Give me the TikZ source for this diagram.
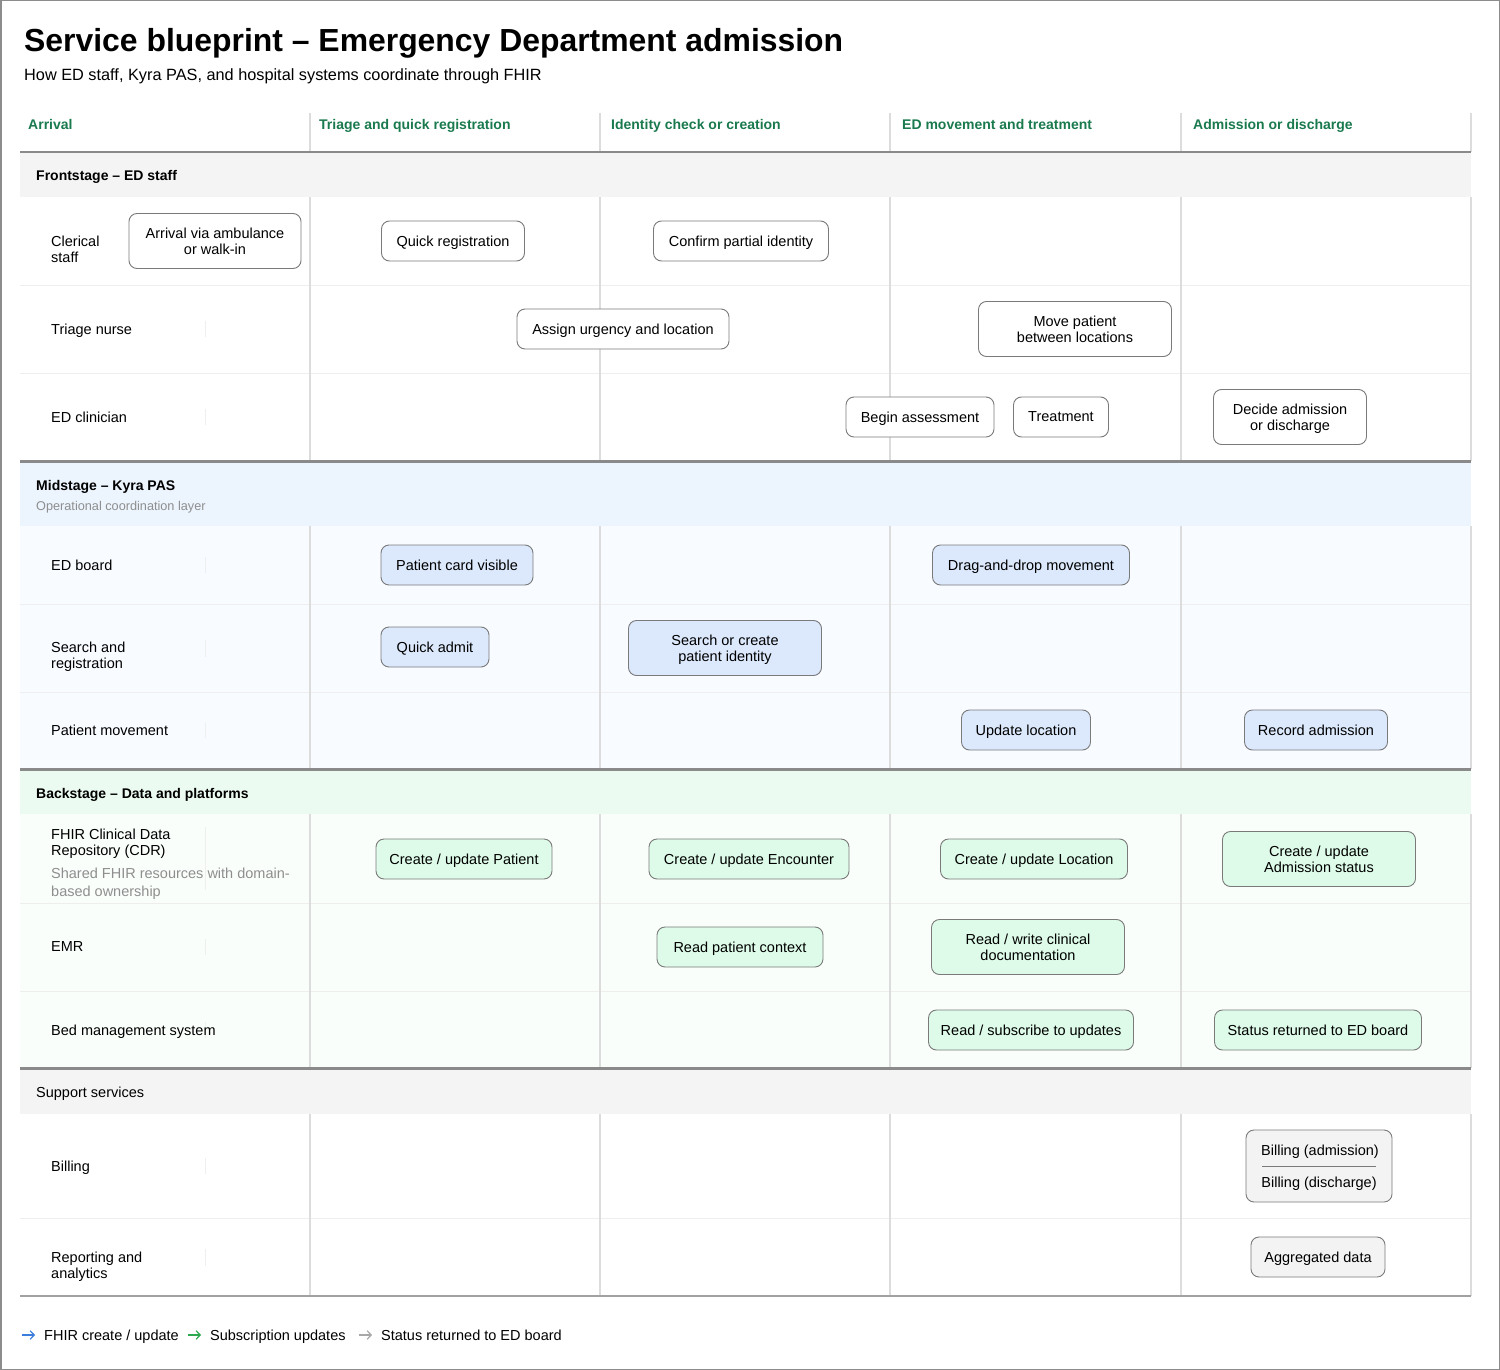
\documentclass[tikz,border=0pt]{standalone}
\usepackage{fontspec}
\setmainfont{Liberation Sans}
\usetikzlibrary{arrows.meta}

\definecolor{frame}{HTML}{8C8C8C}
\definecolor{rule}{HTML}{8A8A8A}
\definecolor{colline}{HTML}{DCDCDC}
\definecolor{rowline}{HTML}{EEEEEE}
\definecolor{tick}{HTML}{EFEFEF}
\definecolor{phase}{HTML}{1A7A4E}
\definecolor{greyband}{HTML}{F4F4F4}
\definecolor{blueband}{HTML}{ECF4FE}
\definecolor{bluerow}{HTML}{F8FBFF}
\definecolor{greenband}{HTML}{ECFBF1}
\definecolor{greenrow}{HTML}{FAFEFB}
\definecolor{cardline}{HTML}{7A7A7A}
\definecolor{midfill}{HTML}{DCE9FC}
\definecolor{backfill}{HTML}{DDFBE8}
\definecolor{suppfill}{HTML}{F3F3F3}
\definecolor{subtext}{HTML}{8E8E8E}
\definecolor{legblue}{HTML}{3B7DDD}
\definecolor{leggreen}{HTML}{2EA84E}
\definecolor{leggrey}{HTML}{A8A8A8}

\newcommand\bodyfont{\fontsize{14.5}{16}\selectfont}

\tikzset{
  card/.style={draw=cardline, line width=0.9pt, rounded corners=8pt, align=center,
               font=\bodyfont, inner sep=0pt, text=black, text depth=0pt},
  front/.style={card, fill=white},
  mid/.style={card, fill=midfill},
  back/.style={card, fill=backfill},
  supp/.style={card, fill=suppfill},
  rowlab/.style={anchor=west, align=left, font=\bodyfont, inner sep=0pt, text depth=0pt},
  phasehead/.style={anchor=west, font=\fontsize{14}{16}\selectfont\bfseries, text=phase, inner sep=0pt, text depth=0pt},
  bandhead/.style={anchor=west, font=\fontsize{14}{16}\selectfont\bfseries, inner sep=0pt, text depth=0pt},
  legtext/.style={anchor=west, font=\bodyfont, inner sep=0pt, text depth=0pt},
  legarrow/.style={-{Straight Barb[length=4pt,width=8.5pt]}, line width=1.2pt},
}

\begin{document}
\begin{tikzpicture}[x=1pt,y=-1pt]
\useasboundingbox (0,0) rectangle (1500,1370);
\fill[white] (0,0) rectangle (1500,1370);

% band and row backgrounds
\fill[greyband]  (20,153)  rectangle (1471,197);
\fill[blueband]  (20,462)  rectangle (1471,526);
\fill[bluerow]   (20,526)  rectangle (1471,769);
\fill[greenband] (20,770)  rectangle (1471,814);
\fill[greenrow]  (20,814)  rectangle (1471,1068);
\fill[greyband]  (20,1069) rectangle (1471,1114);

% thin row separators
\foreach \y in {285,373,604,692,903,991,1218}
  \draw[rowline, line width=1pt] (20,\y) -- (1471,\y);

% column lines
\foreach \x in {310,600,890,1181,1471} {
  \draw[colline, line width=1.5pt] (\x,113) -- (\x,152);
  \draw[colline, line width=1.5pt] (\x,197) -- (\x,461);
  \draw[colline, line width=1.5pt] (\x,526) -- (\x,769);
  \draw[colline, line width=1.5pt] (\x,814) -- (\x,1068);
  \draw[colline, line width=1.5pt] (\x,1114) -- (\x,1296);
}

% faint label-cell edges
\foreach \ya/\yb in {321/337, 409/425, 557/573, 640/657, 722/738, 827/890, 939/955, 1022/1038, 1158/1174, 1249/1266}
  \draw[tick, line width=1pt] (205,\ya) -- (205,\yb);

% section rules
\draw[rule, line width=2.5pt] (20,152) -- (1471,152);
\draw[rule, line width=2.5pt] (20,461.5) -- (1471,461.5);
\draw[rule, line width=2.5pt] (20,769.5) -- (1471,769.5);
\draw[rule, line width=2.5pt] (20,1068.5) -- (1471,1068.5);
\draw[rule!80, line width=1.5pt] (20,1296) -- (1471,1296);

% title
\node[anchor=base west, inner sep=0pt, font=\fontsize{31.9}{36}\selectfont\bfseries] (title) at (24,52)
  {Service blueprint – Emergency Department admission};
\node[anchor=west, inner sep=0pt, text depth=0pt, font=\fontsize{16.3}{19}\selectfont] (subtitle) at (24,75)
  {How ED staff, Kyra PAS, and hospital systems coordinate through FHIR};

% phase headers
\node[phasehead] (ph1) at (28,124) {Arrival};
\node[phasehead] (ph2) at (319,124) {Triage and quick registration};
\node[phasehead] (ph3) at (611,124) {Identity check or creation};
\node[phasehead] (ph4) at (902,124) {ED movement and treatment};
\node[phasehead] (ph5) at (1193,124) {Admission or discharge};

% band headers
\node[bandhead] (bfront) at (36,175) {Frontstage – ED staff};
\node[bandhead] (bmid) at (36,485) {Midstage – Kyra PAS};
\node[anchor=west, inner sep=0pt, text depth=0pt, font=\fontsize{12.7}{14}\selectfont, text=subtext] (bmidsub) at (36,506) {Operational coordination layer};
\node[bandhead] (bback) at (36,793) {Backstage – Data and platforms};
\node[anchor=west, inner sep=0pt, text depth=0pt, font=\bodyfont] (bsupp) at (36,1092) {Support services};

% row labels
\node[rowlab] (lclerical) at (51,249) {Clerical\\staff};
\node[rowlab] (ltriage) at (51,329) {Triage nurse};
\node[rowlab] (lclin) at (51,417) {ED clinician};
\node[rowlab] (lboard) at (51,565) {ED board};
\node[rowlab] (lsearch) at (51,655) {Search and\\registration};
\node[rowlab] (lmove) at (51,730) {Patient movement};
\node[rowlab] (lcdr) at (51,842) {FHIR Clinical Data\\Repository (CDR)};
\node[rowlab, text=subtext, font=\fontsize{14.5}{17.5}\selectfont] (lcdrsub) at (51,882) {Shared FHIR resources with domain-\\based ownership};
\node[rowlab] (lemr) at (51,947) {EMR};
\node[rowlab] (lbed) at (51,1030) {Bed management system};
\node[rowlab] (lbill) at (51,1166) {Billing};
\node[rowlab] (lrep) at (51,1265) {Reporting and\\analytics};

% frontstage cards
\node[front, minimum width=172pt, minimum height=55pt] (arrive) at (215,241) {Arrival via ambulance\\or walk-in};
\node[front, minimum width=143pt, minimum height=40pt] (quickreg) at (453,241) {Quick registration};
\node[front, minimum width=175pt, minimum height=40pt] (confirm) at (741,241) {Confirm partial identity};
\node[front, minimum width=212pt, minimum height=40pt] (assign) at (623,329) {Assign urgency and location};
\node[front, minimum width=193pt, minimum height=55pt] (movepat) at (1075,329) {Move patient\\between locations};
\node[front, minimum width=148pt, minimum height=40pt] (assess) at (920,417) {Begin assessment};
\node[front, minimum width=95pt, minimum height=40pt] (treat) at (1061,417) {Treatment};
\node[front, minimum width=153pt, minimum height=55pt] (decide) at (1290,417) {Decide admission\\or discharge};

% midstage cards
\node[mid, minimum width=152pt, minimum height=40pt] (card) at (457,565) {Patient card visible};
\node[mid, minimum width=197pt, minimum height=40pt] (drag) at (1031,565) {Drag-and-drop movement};
\node[mid, minimum width=108pt, minimum height=40pt] (qadmit) at (435,647) {Quick admit};
\node[mid, minimum width=193pt, minimum height=55pt] (search) at (725,648) {Search or create\\patient identity};
\node[mid, minimum width=129pt, minimum height=40pt] (updloc) at (1026,730) {Update location};
\node[mid, minimum width=143pt, minimum height=40pt] (recadm) at (1316,730) {Record admission};

% backstage cards
\node[back, minimum width=176pt, minimum height=40pt] (cpat) at (464,859) {Create / update Patient};
\node[back, minimum width=200pt, minimum height=40pt] (cenc) at (749,859) {Create / update Encounter};
\node[back, minimum width=187pt, minimum height=40pt] (cloc) at (1034,859) {Create / update Location};
\node[back, minimum width=193pt, minimum height=55pt] (cadm) at (1319,859) {Create / update\\Admission status};
\node[back, minimum width=166pt, minimum height=40pt] (rctx) at (740,947) {Read patient context};
\node[back, minimum width=193pt, minimum height=55pt] (rwdoc) at (1028,947) {Read / write clinical\\documentation};
\node[back, minimum width=205pt, minimum height=40pt] (rsub) at (1031,1030) {Read / subscribe to updates};
\node[back, minimum width=207pt, minimum height=40pt] (sret) at (1318,1030) {Status returned to ED board};

% support cards
\node[supp, minimum width=146pt, minimum height=72pt] (billing) at (1319,1166) {};
\node[anchor=center, inner sep=0pt, text depth=0pt, font=\bodyfont] (billadm) at (1320,1150) {Billing (admission)};
\node[anchor=center, inner sep=0pt, text depth=0pt, font=\bodyfont] (billdis) at (1319,1182) {Billing (discharge)};
\draw[cardline, line width=0.8pt] (1262,1166) -- (1376,1166);
\node[supp, minimum width=134pt, minimum height=40pt] (aggr) at (1318,1257) {Aggregated data};

% legend
\coordinate (la1) at (22,1335);  \coordinate (la2) at (35,1335);
\coordinate (lg1) at (188,1335); \coordinate (lg2) at (201,1335);
\coordinate (lr1) at (359,1335); \coordinate (lr2) at (372,1335);
\draw[legarrow, legblue] (la1) -- (la2);
\node[legtext] (legfhir) at (44,1335) {FHIR create / update};
\draw[legarrow, leggreen] (lg1) -- (lg2);
\node[legtext] (legsub) at (210,1335) {Subscription updates};
\draw[legarrow, leggrey] (lr1) -- (lr2);
\node[legtext] (legret) at (381,1335) {Status returned to ED board};

% outer frame
\draw[frame, line width=1.5pt] (0.75,0.75) rectangle (1499.25,1369.25);
\end{tikzpicture}
\end{document}
